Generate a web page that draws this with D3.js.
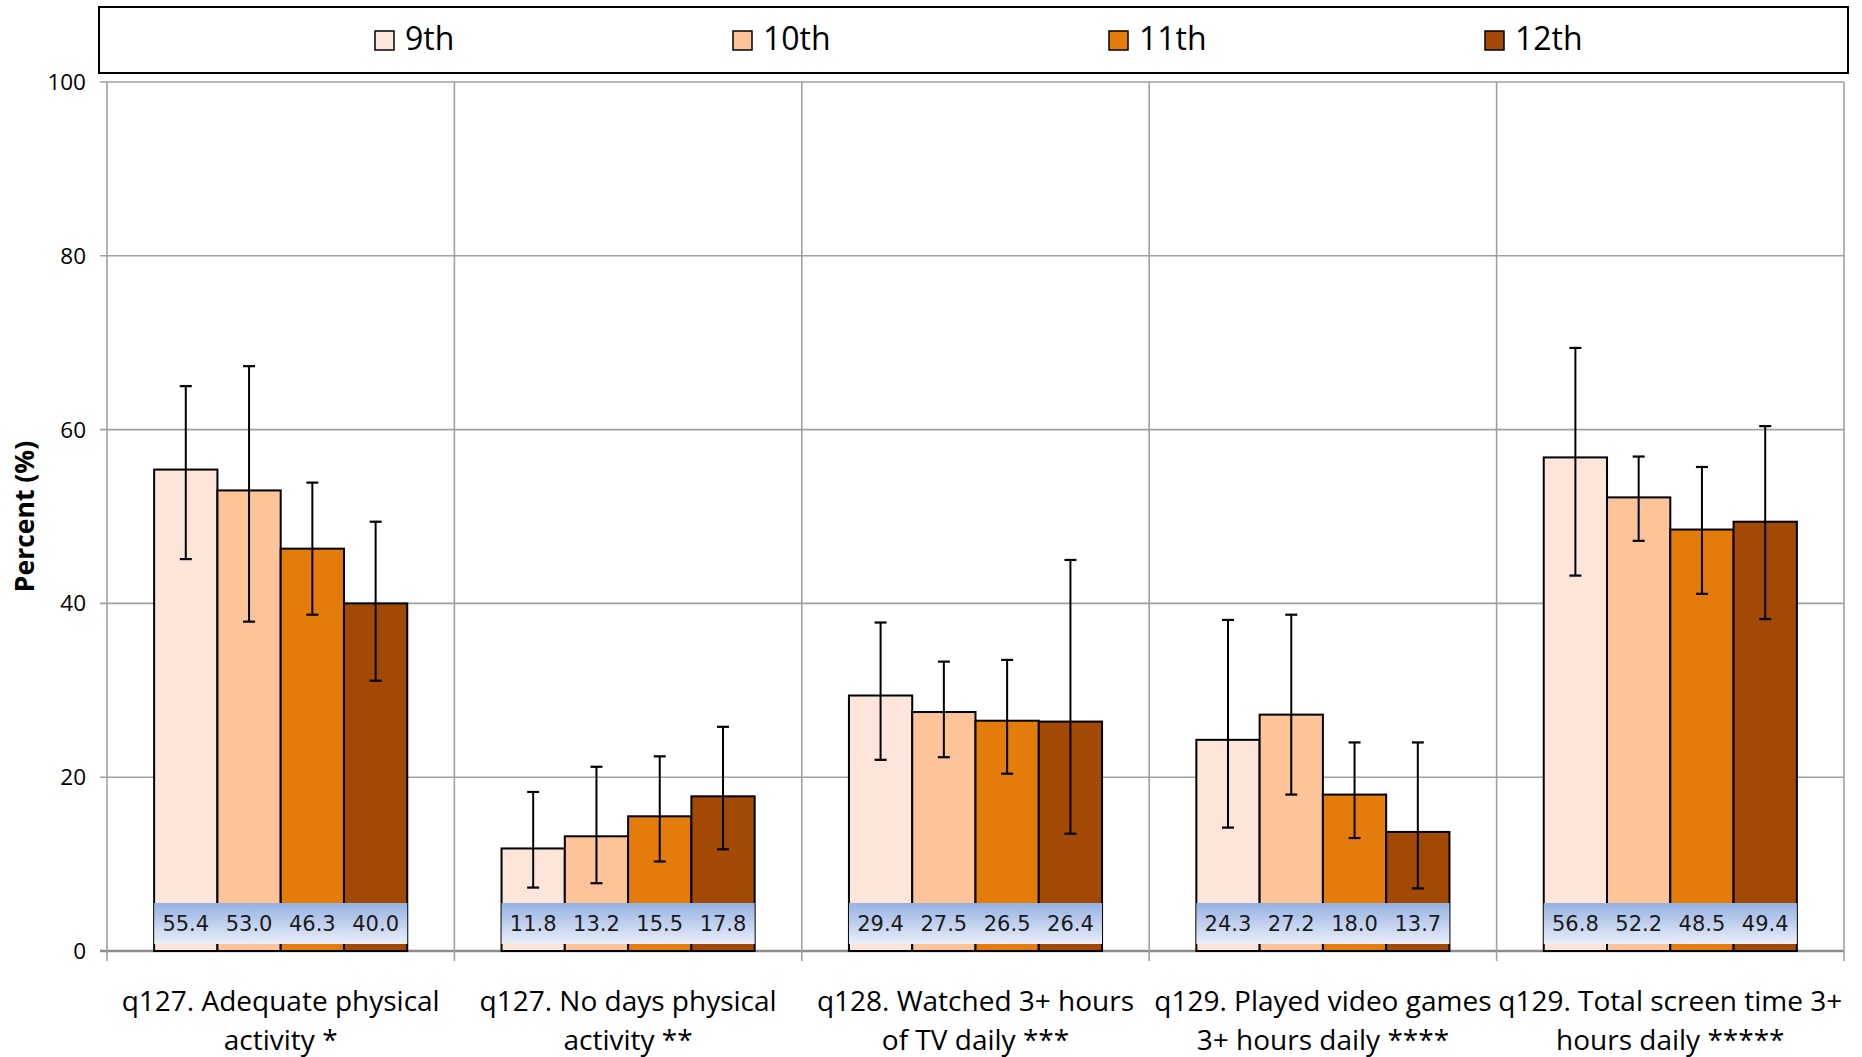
<!DOCTYPE html>
<html>
<head>
<meta charset="utf-8">
<script src="https://cdn.jsdelivr.net/npm/d3@7"></script>
<style>
  html, body { margin: 0; padding: 0; background: #fff; }
  svg { display: block; }
</style>
</head>
<body>
<svg id="chart" width="1862" height="1057"></svg>
<script>
// ---------------- data ----------------
const categories = [
  ["q127. Adequate physical", "activity *"],
  ["q127. No days physical", "activity **"],
  ["q128. Watched 3+ hours", "of TV daily ***"],
  ["q129. Played video games", "3+ hours daily ****"],
  ["q129. Total screen time 3+", "hours daily *****"]
];
const grades = ["9th", "10th", "11th", "12th"];
const values9  = [55.4, 11.8, 29.4, 24.3, 56.8];
const values10 = [53.0, 13.2, 27.5, 27.2, 52.2];
const values11 = [46.3, 15.5, 26.5, 18.0, 48.5];
const values12 = [40.0, 17.8, 26.4, 13.7, 49.4];
const lower9   = [45.1,  7.3, 22.0, 14.2, 43.2];
const upper9   = [65.0, 18.3, 37.8, 38.1, 69.4];
const lower10  = [37.9,  7.8, 22.3, 18.0, 47.2];
const upper10  = [67.3, 21.2, 33.3, 38.7, 56.9];
const lower11  = [38.7, 10.3, 20.4, 13.0, 41.1];
const upper11  = [53.9, 22.4, 33.5, 24.0, 55.7];
const lower12  = [31.1, 11.7, 13.5,  7.2, 38.2];
const upper12  = [49.4, 25.8, 45.0, 24.0, 60.4];
const yTicks = [0, 20, 40, 60, 80, 100];
const yTitle = "Percent (%)";

const seriesValues = [values9, values10, values11, values12];
const seriesLower = [lower9, lower10, lower11, lower12];
const seriesUpper = [upper9, upper10, upper11, upper12];
const colors = ["#fde6d9", "#fdc49a", "#e37c0b", "#a34906"];

// ---------------- layout ----------------
const plotL = 107, plotR = 1844, plotT = 82, plotB = 951;
const svg = d3.select("#chart");
const FONT = "'Open Sans', 'DejaVu Sans', sans-serif";

const catIdx = categories.map((c, i) => i);
const x0 = d3.scaleBand().domain(catIdx).range([plotL, plotR]).paddingInner(0).paddingOuter(0);
const x1 = d3.scaleBand().domain(grades).range([0, x0.bandwidth()]).paddingInner(0).paddingOuter(0.745);
const y = d3.scaleLinear().domain([0, 100]).range([plotB, plotT]);

// gradient for label boxes
const defs = svg.append("defs");
const grad = defs.append("linearGradient").attr("id", "lblgrad")
  .attr("x1", 0).attr("y1", 0).attr("x2", 0).attr("y2", 1);
grad.append("stop").attr("offset", "0%").attr("stop-color", "#96b1e2");
grad.append("stop").attr("offset", "100%").attr("stop-color", "#eaeff9");

// horizontal gridlines (with tick stub on the left)
svg.append("g").selectAll("line").data(yTicks).join("line")
  .attr("x1", plotL - 7).attr("x2", plotR)
  .attr("y1", d => y(d)).attr("y2", d => y(d))
  .attr("stroke", d => d === 0 ? "#8c8c8c" : "#a0a0a0")
  .attr("stroke-width", d => d === 0 ? 2.5 : 1.6);

// vertical gridlines at category boundaries
const bounds = catIdx.map(i => x0(i)).concat([plotR]);
svg.append("g").selectAll("line").data(bounds).join("line")
  .attr("x1", d => d).attr("x2", d => d)
  .attr("y1", y(100)).attr("y2", plotB + 10)
  .attr("stroke", "#a0a0a0").attr("stroke-width", 1.6);

// y tick labels
svg.append("g").selectAll("text").data(yTicks).join("text")
  .attr("x", 86).attr("y", d => y(d) + 8)
  .attr("text-anchor", "end")
  .attr("font-family", FONT).attr("font-size", 22.5).attr("fill", "#000")
  .text(d => d);

// y title
svg.append("text")
  .attr("transform", `translate(${34}, ${(plotT + plotB) / 2}) rotate(-90)`)
  .attr("text-anchor", "middle")
  .attr("font-family", FONT).attr("font-weight", "bold").attr("font-size", 26.5)
  .attr("fill", "#000")
  .text(yTitle);

// bars
const groups = svg.append("g").selectAll("g").data(catIdx).join("g")
  .attr("transform", i => `translate(${x0(i)},0)`);

groups.selectAll("rect.bar")
  .data(i => grades.map((g, s) => ({ g, s, v: seriesValues[s][i] })))
  .join("rect").attr("class", "bar")
  .attr("x", d => x1(d.g)).attr("width", x1.bandwidth())
  .attr("y", d => y(d.v)).attr("height", d => y(0) - y(d.v))
  .attr("fill", d => colors[d.s])
  .attr("stroke", "#000").attr("stroke-width", 2);

// error bars
const eb = groups.selectAll("g.eb")
  .data(i => grades.map((g, s) => ({ g, s, lo: seriesLower[s][i], hi: seriesUpper[s][i] })))
  .join("g").attr("class", "eb")
  .attr("transform", d => `translate(${x1(d.g) + x1.bandwidth() / 2},0)`);
eb.append("line").attr("x1", 0).attr("x2", 0)
  .attr("y1", d => y(d.hi)).attr("y2", d => y(d.lo))
  .attr("stroke", "#000").attr("stroke-width", 2);
eb.append("line").attr("x1", -6).attr("x2", 6)
  .attr("y1", d => y(d.hi)).attr("y2", d => y(d.hi))
  .attr("stroke", "#000").attr("stroke-width", 2.2);
eb.append("line").attr("x1", -6).attr("x2", 6)
  .attr("y1", d => y(d.lo)).attr("y2", d => y(d.lo))
  .attr("stroke", "#000").attr("stroke-width", 2.2);

// value label boxes
groups.append("rect")
  .attr("x", x1(grades[0]))
  .attr("width", x1(grades[grades.length - 1]) + x1.bandwidth() - x1(grades[0]))
  .attr("y", plotB - 48).attr("height", 41)
  .attr("fill", "url(#lblgrad)");

groups.selectAll("text.val")
  .data(i => grades.map((g, s) => ({ g, s, v: seriesValues[s][i] })))
  .join("text").attr("class", "val")
  .attr("x", d => x1(d.g) + x1.bandwidth() / 2)
  .attr("y", plotB - 20)
  .attr("text-anchor", "middle")
  .attr("font-family", "'DejaVu Sans', Verdana, sans-serif")
  .attr("font-size", 21).attr("fill", "#1a1a1a")
  .text(d => d.v.toFixed(1));

// category labels
const catLabels = svg.append("g").selectAll("text").data(catIdx).join("text")
  .attr("text-anchor", "middle")
  .attr("font-family", FONT).attr("font-size", 28).attr("fill", "#000");
catLabels.selectAll("tspan").data(i => categories[i].map(t => ({ t, i })))
  .join("tspan")
  .attr("x", d => x0(d.i) + x0.bandwidth() / 2)
  .attr("y", (d, k) => 1011 + k * 39)
  .text(d => d.t);

// legend
svg.append("rect").attr("x", 99).attr("y", 7).attr("width", 1749).attr("height", 66)
  .attr("fill", "#fff").attr("stroke", "#000").attr("stroke-width", 2);
const legendX = [375, 733, 1109, 1485];
const leg = svg.append("g").selectAll("g").data(grades).join("g")
  .attr("transform", (d, i) => `translate(${legendX[i]},0)`);
leg.append("rect").attr("x", 0).attr("y", 31).attr("width", 19).attr("height", 19)
  .attr("fill", (d, i) => colors[i]).attr("stroke", "#000").attr("stroke-width", 1.5);
leg.append("text").attr("x", 30).attr("y", 50)
  .attr("font-family", FONT).attr("font-size", 32).attr("fill", "#000")
  .text(d => d);
</script>
</body>
</html>
